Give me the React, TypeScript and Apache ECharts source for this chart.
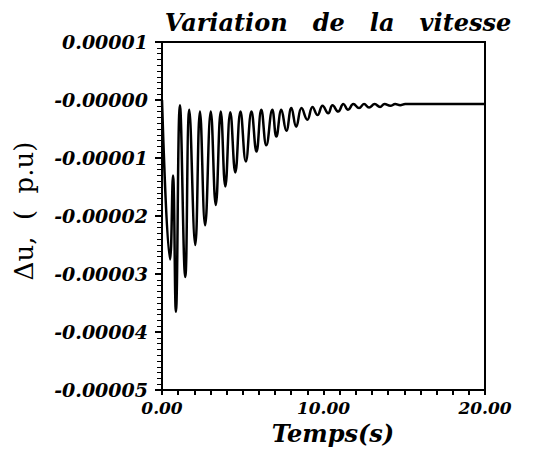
import React, { useEffect, useRef } from "react";
import * as echarts from "echarts";

// Time (s) of each turning point of the response
const times = [
  0, 0.5, 0.68, 0.86, 1.11, 1.44, 1.69, 2.06, 2.35, 2.67, 3.02, 3.33, 3.64, 3.92,
  4.23, 4.54, 4.86, 5.19, 5.54, 5.85, 6.15, 6.46, 6.83, 7.08, 7.39, 7.7, 8.01,
  8.31, 8.64, 9.0, 9.32, 9.63, 9.94, 10.29, 10.56, 10.91, 11.23, 11.52, 11.85,
  12.2, 12.51, 12.82, 13.17, 13.5, 13.78, 14.14, 14.44, 14.75, 15.06, 16.5, 18.0, 20.0,
];
// Speed deviation at those points, in units of 1e-5 p.u.
const speedDevE5 = [
  0, -2.75, -1.3, -3.65, -0.09, -3.05, -0.17, -2.5, -0.2, -2.16, -0.2, -1.81, -0.2, -1.49,
  -0.21, -1.25, -0.2, -1.06, -0.2, -0.89, -0.17, -0.78, -0.17, -0.63, -0.17, -0.53, -0.14,
  -0.46, -0.14, -0.34, -0.12, -0.26, -0.1, -0.23, -0.09, -0.2, -0.07, -0.17, -0.07,
  -0.14, -0.07, -0.13, -0.07, -0.12, -0.07, -0.1, -0.07, -0.09, -0.07, -0.07, -0.07, -0.07,
];
const yTickLabels = ["0.00001", "-0.00000", "-0.00001", "-0.00002", "-0.00003", "-0.00004", "-0.00005"];
const xTickLabels = ["0.00", "10.00", "20.00"];

const FONT = "DejaVu Serif";

export default function App() {
  const ref = useRef<HTMLDivElement>(null);
  useEffect(() => {
    if (!ref.current) return;
    const chart = echarts.init(ref.current, undefined, { renderer: "svg" });
    const data = times.map((t, i) => [t, speedDevE5[i] * 1e-5]);
    chart.setOption({
      animation: false,
      backgroundColor: "#ffffff",
      grid: {
        left: 162,
        right: 75,
        top: 42,
        bottom: 66,
        show: true,
        borderColor: "#000",
        borderWidth: 2,
      },
      xAxis: {
        type: "value",
        min: 0,
        max: 20,
        interval: 10,
        axisLine: { show: true, onZero: false, lineStyle: { color: "#000", width: 2 } },
        axisTick: { show: true, inside: false, length: 5, lineStyle: { color: "#000", width: 2 } },
        minorTick: { show: true, splitNumber: 10, length: 5, lineStyle: { color: "#000", width: 2 } },
        splitLine: { show: false },
        axisLabel: {
          color: "#000",
          fontFamily: FONT,
          fontStyle: "italic",
          fontWeight: "bold",
          fontSize: 17,
          margin: 9,
          formatter: (v: number) => xTickLabels[Math.round(v / 10)],
        },
      },
      yAxis: {
        type: "value",
        min: -0.00005,
        max: 0.00001,
        interval: 0.00001,
        axisLine: { show: true, onZero: false, lineStyle: { color: "#000", width: 2 } },
        axisTick: { show: true, inside: false, length: 7, lineStyle: { color: "#000", width: 2 } },
        minorTick: { show: true, splitNumber: 10, length: 5, lineStyle: { color: "#000", width: 1 } },
        splitLine: { show: false },
        axisLabel: {
          color: "#000",
          fontFamily: FONT,
          fontStyle: "italic",
          fontWeight: "bold",
          fontSize: 19,
          margin: 14,
          formatter: (v: number) => yTickLabels[Math.round((0.00001 - v) / 0.00001)],
        },
      },
      graphic: [
        {
          type: "text",
          x: 338,
          y: 22,
          style: {
            text: "Variation   de   la   vitesse",
            fontFamily: FONT,
            fontStyle: "italic",
            fontWeight: "bold",
            fontSize: 24,
            fill: "#000",
            textAlign: "center",
            textVerticalAlign: "middle",
          },
        },
        {
          type: "text",
          x: 333,
          y: 433,
          style: {
            text: "Temps(s)",
            fontFamily: FONT,
            fontStyle: "italic",
            fontWeight: "bold",
            fontSize: 24,
            fill: "#000",
            textAlign: "center",
            textVerticalAlign: "middle",
          },
        },
        {
          type: "text",
          x: 24,
          y: 211,
          rotation: Math.PI / 2,
          style: {
            text: "Δu,  (  p.u)",
            fontFamily: FONT,
            fontWeight: "normal",
            fontSize: 26,
            fill: "#000",
            textAlign: "center",
            textVerticalAlign: "middle",
          },
        },
      ],
      series: [
        {
          type: "line",
          data,
          smooth: 0.45,
          showSymbol: false,
          lineStyle: { color: "#000", width: 2.5 },
        },
      ],
    });
    return () => chart.dispose();
  }, []);
  return <div ref={ref} style={{ width: 560, height: 456, position: "absolute", left: 0, top: 0 }} />;
}
